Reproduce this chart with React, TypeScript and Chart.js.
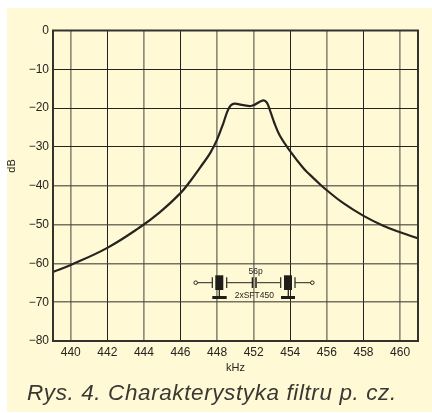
import React, { useEffect, useRef } from "react";
import { Chart, registerables } from "chart.js";

Chart.register(...registerables);

// The printed axis really skips 450: labels are evenly spaced by index.
const xTickLabels = ["440", "442", "444", "446", "448", "452", "454", "456", "458", "460"];
const xTickHeavy = [true, false, true, false, true, true, false, true, false, true];
const yTicks = [0, -10, -20, -30, -40, -50, -60, -70, -80];
const yTickHeavy = [false, false, false, false, true, true, true, true, false];

// x is expressed in tick-index units of the printed axis
const curveX = [-0.484, 0, 1, 1.89, 2.44, 3, 3.26, 3.62, 3.81, 3.99, 4.17, 4.31, 4.44, 4.72, 4.95, 5.26, 5.36, 5.45, 5.56, 5.72, 5.99, 6.36, 6.54, 6.81, 6.99, 7.45, 7.99, 8.54, 9, 9.5];
const curveDb = [-62.2, -60.4, -56, -50.7, -46.8, -41.9, -38.9, -34.2, -31.6, -28.3, -23.9, -20.2, -18.9, -19.25, -19.4, -18, -18.6, -20.7, -23.7, -27.2, -31, -35.5, -37.2, -39.6, -41.1, -44.5, -47.7, -50.3, -52, -53.6];

const INK = "#26241f";
const FONT = '"Liberation Sans", Arial, sans-serif';

const decorations = {
  id: "decorations",
  afterDatasetsDraw(chart: any) {
    const { ctx, chartArea: a } = chart;
    ctx.save();
    // frame
    ctx.strokeStyle = "#34322c";
    ctx.lineWidth = 2;
    ctx.strokeRect(a.left, a.top, a.right - a.left, a.bottom - a.top);

    // dB label
    ctx.fillStyle = INK;
    ctx.font = `11px ${FONT}`;
    ctx.textAlign = "center";
    ctx.textBaseline = "middle";
    ctx.save();
    ctx.translate(12, 166);
    ctx.rotate(-Math.PI / 2);
    ctx.fillText("dB", 0, 0);
    ctx.restore();

    // filter schematic
    ctx.strokeStyle = INK;
    ctx.lineWidth = 1;
    const line = (x1: number, y1: number, x2: number, y2: number, w = 1) => {
      ctx.lineWidth = w;
      ctx.beginPath();
      ctx.moveTo(x1, y1);
      ctx.lineTo(x2, y2);
      ctx.stroke();
    };
    const cy = 282.7;
    ctx.fillStyle = "#fff9d6";
    for (const cx of [195.7, 312.3]) {
      ctx.lineWidth = 1;
      ctx.beginPath();
      ctx.arc(cx, cy, 1.8, 0, Math.PI * 2);
      ctx.fill();
      ctx.stroke();
    }
    line(197.5, cy, 212, cy);
    line(227, cy, 252, cy);
    line(257, cy, 280, cy);
    line(295, cy, 310.5, cy);
    for (const x of [212.3, 226.7, 280.7, 295]) line(x, 277.3, x, 288, 1.2);
    line(252.5, 277.3, 252.5, 288, 1.6);
    line(256, 277.3, 256, 288, 1.6);
    ctx.fillStyle = "#1f1d1a";
    ctx.fillRect(215.3, 275.3, 8, 14.7);
    ctx.fillRect(284, 275.3, 8, 14.7);
    line(219.3, 290, 219.3, 297, 1.3);
    line(288.3, 290, 288.3, 297, 1.3);
    ctx.fillRect(212.3, 296, 14.4, 3);
    ctx.fillRect(281, 296, 14, 3);
    ctx.fillStyle = INK;
    ctx.font = `8.5px ${FONT}`;
    ctx.fillText("56p", 255.7, 272);
    ctx.fillText("2xSFT450", 254.3, 296);
    ctx.restore();
  },
};

export default function App() {
  const ref = useRef<HTMLCanvasElement>(null);
  useEffect(() => {
    const chart = new Chart(ref.current!, {
      type: "line",
      data: {
        datasets: [
          {
            data: curveX.map((x, i) => ({ x, y: curveDb[i] })),
            borderColor: INK,
            borderWidth: 2.2,
            pointRadius: 0,
            tension: 0.4,
            fill: false,
          },
        ],
      },
      plugins: [decorations],
      options: {
        animation: false,
        responsive: false,
        layout: { padding: { left: 0, right: 14, top: 30.5, bottom: 38 } },
        plugins: { legend: { display: false }, tooltip: { enabled: false } },
        scales: {
          x: {
            type: "linear",
            min: -0.484,
            max: 9.49,
            afterBuildTicks: (axis: any) => {
              axis.ticks = xTickLabels.map((_, i) => ({ value: i }));
            },
            afterFit: (axis: any) => {
              axis.height = 34;
            },
            border: { display: false },
            grid: {
              drawTicks: false,
              color: (c: any) => (xTickHeavy[c.index] ? "rgba(70,68,58,0.6)" : "#24221e"),
              lineWidth: (c: any) => (xTickHeavy[c.index] ? 1.7 : 1),
            },
            ticks: {
              autoSkip: false,
              maxRotation: 0,
              padding: 4,
              color: INK,
              font: { family: FONT, size: 12 },
              callback: (v: any) => xTickLabels[v as number] ?? "",
            },
            title: {
              display: true,
              text: "kHz",
              color: INK,
              font: { family: FONT, size: 11 },
              padding: { top: 5, bottom: 0 },
            },
          },
          y: {
            type: "linear",
            min: -80,
            max: 0,
            afterBuildTicks: (axis: any) => {
              axis.ticks = yTicks.map((value) => ({ value }));
            },
            afterFit: (axis: any) => {
              axis.width = 53;
            },
            border: { display: false },
            grid: {
              drawTicks: false,
              color: (c: any) => (yTickHeavy[c.index] ? "rgba(70,68,58,0.75)" : "#24221e"),
              lineWidth: (c: any) => (yTickHeavy[c.index] ? 1.5 : 1),
            },
            ticks: {
              padding: 4,
              color: INK,
              font: { family: FONT, size: 12 },
              callback: (v: any) => (v < 0 ? "\u2212" + Math.abs(v) : String(v)),
            },
          },
        },
      },
    } as any);
    return () => chart.destroy();
  }, []);

  return (
    <div style={{ position: "fixed", left: 0, top: 0, width: 432, height: 413, background: "#fff", overflow: "hidden" }}>
      <div style={{ position: "absolute", left: 7, top: 8, width: 425, height: 404, background: "#fff9d6" }} />
      <canvas ref={ref} width={432} height={413} style={{ position: "absolute", left: 0, top: 0, width: 432, height: 413 }} />
      <div
        style={{
          position: "absolute",
          left: 27,
          top: 379,
          fontFamily: FONT,
          fontStyle: "italic",
          fontSize: 22.5,
          letterSpacing: 0.6,
          lineHeight: "28px",
          color: "#3a3833",
          whiteSpace: "nowrap",
        }}
      >
        Rys. 4. Charakterystyka filtru p. cz.
      </div>
    </div>
  );
}
